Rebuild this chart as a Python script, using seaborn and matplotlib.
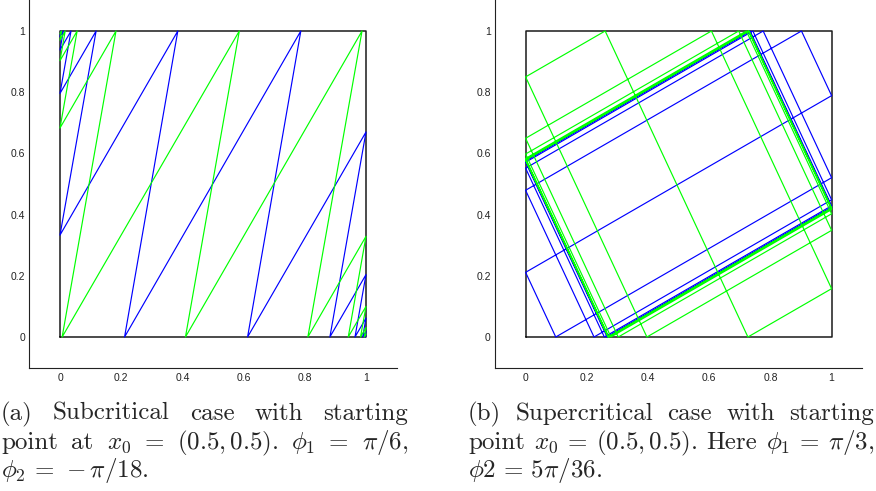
import matplotlib
matplotlib.use("Agg")
import matplotlib.pyplot as plt
import seaborn as sns
import pandas as pd

# ---------------- data (vertices) ----------------
box_x = [0, 1, 1, 0, 0]
box_y = [0, 0, 1, 1, 0]

tick_vals = [0, 0.2, 0.4, 0.6, 0.8, 1]
tick_labels = ["0", "0.2", "0.4", "0.6", "0.8", "1"]

# (a) subcritical case
blue_a_x = [0.003, 0, 0.011, 0, 0.036, 0, 0.118, 0, 0.385, 0.211, 0.787, 0.613,
            1, 0.882, 1, 0.964, 1, 0.989, 1, 0.997, 1]
blue_a_y = [1, 0.981, 1, 0.938, 1, 0.796, 1, 0.333, 1, 0, 1, 0,
            0.670, 0, 0.204, 0, 0.062, 0, 0.019, 0, 0.006]
green_a_x = [0, 0.005, 0, 0.017, 0, 0.056, 0, 0.183, 0.007, 0.586, 0.41, 0.987,
             0.81, 1, 0.942, 1, 0.982, 1, 0.9945, 1]
green_a_y = [0.991, 1, 0.970, 1, 0.903, 1, 0.683, 1, 0, 1, 0, 1,
             0, 0.329, 0, 0.100, 0, 0.031, 0, 0.0095]

# (b) supercritical case
blue_b_x = [0.2696, 0, 0.7306, 1, 0.2688, 0, 0.7336, 1, 0.2573, 0, 0.7764, 1,
            0.0985, 0, 1, 0.9015, 0, 0.2236, 1, 0.7427, 0, 0.2664, 1, 0.7312,
            0, 0.2694, 1, 0.7304, 0, 0.2697]
blue_b_y = [0, 0.5782, 1, 0.4222, 0, 0.5764, 1, 0.4288, 0, 0.5517, 1, 0.5205,
            0, 0.2113, 0.7887, 1, 0.4795, 0, 0.4483, 1, 0.5712, 0, 0.4236, 1,
            0.5778, 0, 0.4218, 1, 0.5783, 0]
green_b_x = [0.2697, 0, 0.7301, 1, 0.2704, 0, 0.7278, 1, 0.2789, 0, 0.6963, 1,
             0.3964, 0, 0.26, 0.7265, 1, 0.6073, 0, 0.3028, 1, 0.7214, 0,
             0.2721, 1, 0.7296, 0, 0.2699, 1]
green_b_y = [0, 0.5784, 1, 0.4213, 0, 0.5798, 1, 0.4164, 0, 0.5980, 1, 0.3485,
             0, 0.850, 1, 0, 0.1579, 1, 0.6494, 0, 0.4026, 1, 0.5835,
             0, 0.4203, 1, 0.5787, 0, 0.4216]

caption_a = [
    ["(a)", "Subcritical", "case", "with", "starting"],
    ["point", "at", r"$x_0$", "=", r"$(0.5,0.5)$.", r"$\phi_1$", "=", r"$\pi/6$,"],
    [r"$\phi_2\,=\,-\pi/18$."],
]
caption_b = [
    ["(b)", "Supercritical", "case", "with", "starting"],
    ["point", r"$x_0$", "=", r"$(0.5,0.5)$.", "Here", r"$\phi_1$", "=", r"$\pi/3$,"],
    [r"$\phi 2\,=\,5\pi/36$."],
]

# ---------------- style ----------------
sns.set_style("white")
plt.rcParams["mathtext.fontset"] = "cm"
plt.rcParams["font.family"] = ["Liberation Sans", "DejaVu Sans"]
plt.rcParams["axes.unicode_minus"] = False

W, H = 876, 491
fig = plt.figure(figsize=(W / 100, H / 100), dpi=100)


def px_axes(x0, y0, x1, y1):
    return fig.add_axes([x0 / W, 1 - y1 / H, (x1 - x0) / W, (y1 - y0) / H])


ax1 = px_axes(29.4, 0.4, 396.6, 367.6)
ax2 = px_axes(495.0, 0.4, 862.2, 367.6)

LW = 0.85
for ax, (bx, by, gx, gy) in [
    (ax1, (blue_a_x, blue_a_y, green_a_x, green_a_y)),
    (ax2, (blue_b_x, blue_b_y, green_b_x, green_b_y)),
]:
    sns.lineplot(x=box_x, y=box_y, sort=False, estimator=None, color="#1a1a1a",
                 linewidth=1.1, ax=ax, zorder=1)
    sns.lineplot(x=bx, y=by, sort=False, estimator=None, color="#0000ff",
                 linewidth=LW, ax=ax, zorder=2)
    sns.lineplot(x=gx, y=gy, sort=False, estimator=None, color="#00ff00",
                 linewidth=LW, ax=ax, zorder=3)
    ax.set_xlim(-0.1, 1.1)
    ax.set_ylim(-0.1, 1.1)
    ax.set_xticks(tick_vals)
    ax.set_xticklabels(tick_labels)
    ax.set_yticks(tick_vals)
    ax.set_yticklabels(tick_labels)
    ax.set_xlabel("")
    ax.set_ylabel("")
    sns.despine(ax=ax)
    for s in ["left", "bottom"]:
        ax.spines[s].set_color("#222222")
        ax.spines[s].set_linewidth(0.8)
    ax.tick_params(direction="in", length=3, width=0.8, labelsize=7.5,
                   colors="#222222")
    ax.tick_params(axis="x", pad=4)
    ax.tick_params(axis="y", pad=3)

# ---------------- captions (justified like LaTeX) ----------------
CAP_FS = 18
renderer = fig.canvas.get_renderer()


def place_line(tokens, x0, x1, base_y, justify):
    texts = [fig.text(0, 0, t, fontsize=CAP_FS, family="cmr10",
                      va="baseline", ha="left") for t in tokens]
    widths = [t.get_window_extent(renderer).width for t in texts]
    if justify and len(tokens) > 1:
        gap = ((x1 - x0) - sum(widths)) / (len(tokens) - 1)
    else:
        gap = 0.33 * CAP_FS * 100 / 72
    x = x0
    for t, w in zip(texts, widths):
        t.set_position((x / W, 1 - base_y / H))
        x += w + gap


baselines = [420, 449, 477]
for cap, (x0, x1) in [(caption_a, (1, 408)), (caption_b, (468, 874))]:
    for i, line in enumerate(cap):
        place_line(line, x0, x1, baselines[i], justify=(i < 2))

fig.savefig("out.png", dpi=100)
